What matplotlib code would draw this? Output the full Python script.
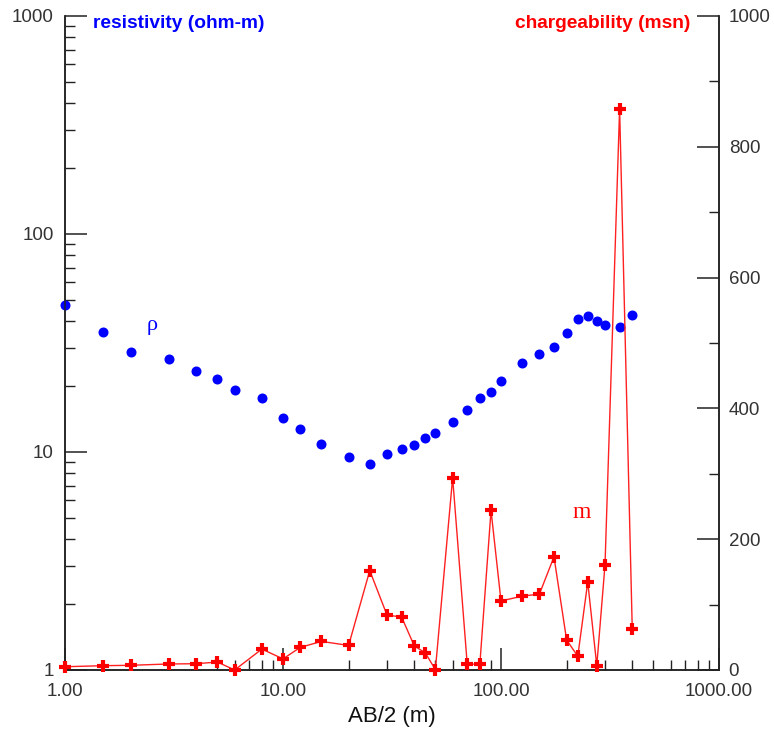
import matplotlib
matplotlib.use("Agg")
from matplotlib import pyplot as plt
from matplotlib.ticker import FixedLocator, FuncFormatter, LogLocator, MultipleLocator
import numpy as np

# AB/2 spacing (m)
ab2 = [1, 1.5, 2, 3, 4, 5, 6, 8, 10, 12, 15, 20, 25, 30, 35, 40, 45, 50,
       60, 70, 80, 90, 100, 125, 150, 175, 200, 225, 250, 275, 300, 350, 400]

# apparent resistivity (ohm-m)
rho = [47.2, 35.6, 28.8, 26.6, 23.6, 21.7, 19.2, 17.7, 14.3, 12.8, 10.9, 9.5,
       8.8, 9.8, 10.3, 10.8, 11.6, 12.2, 13.7, 15.6, 17.7, 18.9, 21.1, 25.5,
       28.3, 30.4, 35.0, 40.9, 41.9, 39.8, 38.3, 37.6, 42.7]

# chargeability (msn)
charge = [5, 6.6, 7.2, 9.2, 9.6, 12.2, 0, 32, 17, 34.6, 43.7, 37.6, 152, 84,
          81, 37, 26, 0.5, 294, 8.7, 9.2, 244, 105.5, 113, 116, 173, 46, 21,
          134.5, 6.6, 161, 858, 63]

x_ticks = [1, 10, 100, 1000]
left_ticks = [1, 10, 100, 1000]
right_ticks = [0, 200, 400, 600, 800, 1000]

fig = plt.figure(figsize=(7.74, 7.36), dpi=100)
plt.rcParams['font.family'] = ['Liberation Sans', 'DejaVu Sans']

ax = fig.add_axes([65 / 774, 66 / 736, 654 / 774, 654 / 736])
ax.set_xscale('log')
ax.set_yscale('log')
ax.set_xlim(1, 1000)
ax.set_ylim(1, 1000)

ax2 = ax.twinx()
ax2.set_ylim(0, 1000)

for a in (ax, ax2):
    a.spines['top'].set_visible(False)
    a.patch.set_visible(False)
    for s in a.spines.values():
        s.set_linewidth(1.1)
        s.set_color('#222222')

ax.plot(ab2, rho, 'o', color='#0000ff', ms=6.2, mec='#0000ff', zorder=3, clip_on=False)
ax2.plot(ab2, charge, '-', color='#ff2020', lw=1.0, zorder=2, clip_on=False)
ax2.plot(ab2, charge, '+', color='#ff0000', ms=9, mew=3, zorder=3, clip_on=False)

ax.xaxis.set_major_locator(FixedLocator(x_ticks))
ax.xaxis.set_minor_locator(LogLocator(base=10, subs=np.arange(2, 10)))
ax.xaxis.set_major_formatter(FuncFormatter(lambda v, p: f'{v:.2f}'))
ax.yaxis.set_major_locator(FixedLocator(left_ticks))
ax.yaxis.set_minor_locator(LogLocator(base=10, subs=np.arange(2, 10)))
ax.yaxis.set_major_formatter(FuncFormatter(lambda v, p: f'{v:g}'))
ax.yaxis.set_minor_formatter(FuncFormatter(lambda v, p: ''))
ax.xaxis.set_minor_formatter(FuncFormatter(lambda v, p: ''))

ax2.yaxis.set_major_locator(FixedLocator(right_ticks))
ax2.yaxis.set_minor_locator(MultipleLocator(100))

tick_kw = dict(direction='in', color='#222222', labelcolor='#333333', labelsize=13.5)
ax.tick_params(axis='both', which='major', length=16, width=1.1, pad=8, **tick_kw)
ax.tick_params(axis='both', which='minor', length=7.5, width=1.0, **tick_kw)
ax.tick_params(axis='x', which='major', pad=9)
ax2.tick_params(axis='y', which='major', length=16, width=1.1, pad=7, **tick_kw)
ax2.tick_params(axis='y', which='minor', length=7.5, width=1.0, **tick_kw)

ax.set_xlabel('AB/2 (m)', fontsize=16, color='#111111', labelpad=5)

fig.text(93 / 774, 1 - 24 / 736, 'resistivity (ohm-m)', color='#0000ff',
         fontsize=13.8, fontweight='bold', ha='left', va='center')
fig.text(690 / 774, 1 - 24 / 736, 'chargeability (msn)', color='#ff0000',
         fontsize=13.8, fontweight='bold', ha='right', va='center')

ax.text(2.5, 38, 'ρ', color='#0000ff', fontsize=16, family=['Liberation Serif', 'DejaVu Serif'],
        ha='center', va='center')
ax2.text(235, 241, 'm', color='#ff0000', fontsize=17, family=['Liberation Serif', 'DejaVu Serif'],
         ha='center', va='center')

fig.savefig('out.png', dpi=100)
